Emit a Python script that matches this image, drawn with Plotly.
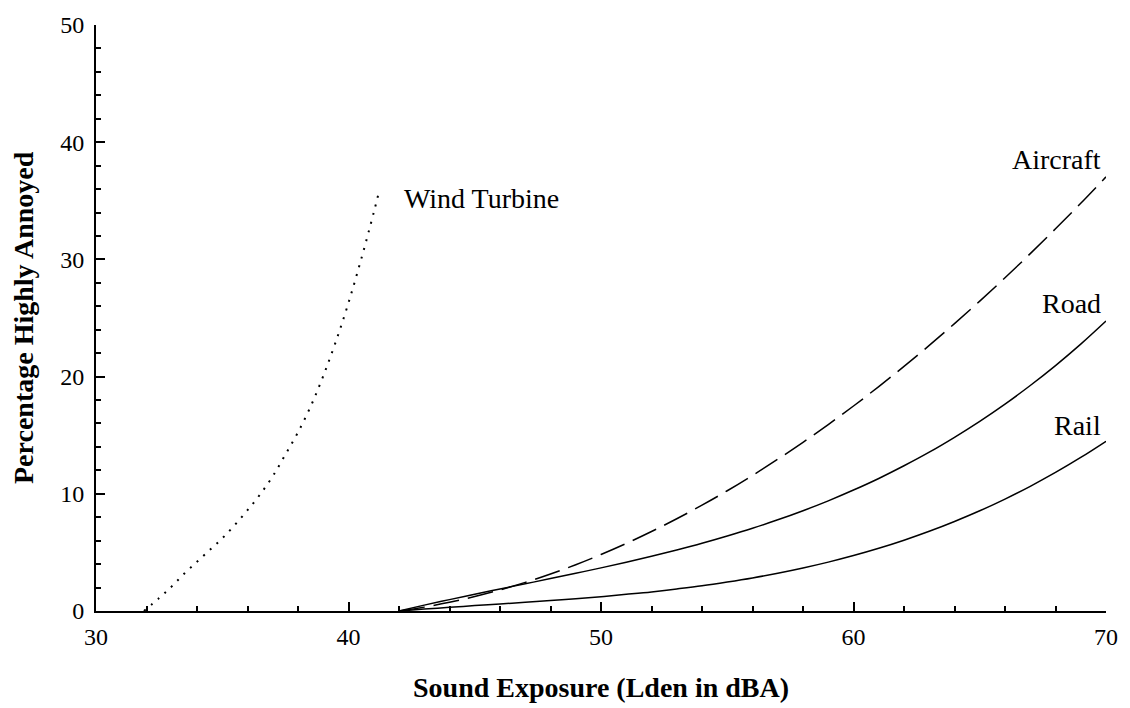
import plotly.graph_objects as go

# ---- data ----
lden = [42, 43, 44, 45, 46, 47, 48, 49, 50, 51, 52, 53, 54, 55, 56,
        57, 58, 59, 60, 61, 62, 63, 64, 65, 66, 67, 68, 69, 70]
aircraft = [0.0, 0.33, 0.74, 1.23, 1.80, 2.44, 3.16, 3.95, 4.82, 5.76, 6.78, 7.87,
            9.03, 10.26, 11.57, 12.95, 14.39, 15.91, 17.49, 19.15, 20.87, 22.66,
            24.52, 26.44, 28.43, 30.49, 32.61, 34.79, 37.04]
road = [0.0, 0.50, 0.97, 1.43, 1.88, 2.32, 2.77, 3.22, 3.68, 4.16, 4.67, 5.21,
        5.78, 6.40, 7.06, 7.78, 8.56, 9.40, 10.32, 11.31, 12.39, 13.55, 14.82,
        16.18, 17.65, 19.24, 20.94, 22.77, 24.74]
rail = [0.0, 0.16, 0.31, 0.46, 0.60, 0.74, 0.89, 1.05, 1.22, 1.42, 1.63, 1.88,
        2.15, 2.47, 2.82, 3.22, 3.67, 4.17, 4.73, 5.35, 6.04, 6.80, 7.64, 8.55,
        9.55, 10.64, 11.82, 13.10, 14.48]

wind_x = [31.9, 32.5, 33.0, 33.5, 34.0, 34.5, 35.0, 35.5, 36.0, 36.5, 37.0,
          37.5, 38.0, 38.5, 39.0, 39.5, 40.0, 40.5, 41.0, 41.2]
wind_y = [0.0, 1.1, 2.1, 3.2, 4.2, 5.2, 6.2, 7.35, 8.6, 9.95, 11.5,
          13.35, 15.25, 17.45, 20.05, 23.0, 26.3, 30.0, 34.0, 35.7]

labels = ["Wind Turbine", "Aircraft", "Road", "Rail"]
label_x = [42.1, 69.9, 69.9, 69.9]
label_y = [35.2, 38.5, 26.25, 15.8]
label_anchor = ["left", "right", "right", "right"]

x_title = "Sound Exposure (Lden in dBA)"
y_title = "Percentage Highly Annoyed"

FONT = "Liberation Serif, Times New Roman, serif"

fig = go.Figure()
fig.add_trace(go.Scatter(x=wind_x, y=wind_y, mode="lines", line_shape="spline",
                         line=dict(color="black", width=2, dash="2px,7px"),
                         hoverinfo="skip"))
fig.add_trace(go.Scatter(x=lden, y=aircraft, mode="lines", line_shape="spline",
                         line=dict(color="black", width=1.5, dash="26px,9px"),
                         hoverinfo="skip"))
fig.add_trace(go.Scatter(x=lden, y=road, mode="lines", line_shape="spline",
                         line=dict(color="black", width=1.5), hoverinfo="skip"))
fig.add_trace(go.Scatter(x=lden, y=rail, mode="lines", line_shape="spline",
                         line=dict(color="black", width=1.5), hoverinfo="skip"))

for t, x, y, a in zip(labels, label_x, label_y, label_anchor):
    fig.add_annotation(x=x, y=y, text=t, showarrow=False, xanchor=a, yanchor="middle",
                       font=dict(family=FONT, size=28, color="black"))

# axis titles (bold)
fig.add_annotation(x=0.5, y=0, xref="paper", yref="paper", text=x_title, showarrow=False,
                   xanchor="center", yanchor="middle", yshift=-76,
                   font=dict(family=FONT, size=28, color="black", weight="bold"))
fig.add_annotation(x=0, y=0.5, xref="paper", yref="paper", text=y_title, showarrow=False,
                   xanchor="center", yanchor="middle", xshift=-73, textangle=-90,
                   font=dict(family=FONT, size=28, color="black", weight="bold"))

axis_common = dict(
    showgrid=False, zeroline=False, showline=True, linecolor="black", linewidth=2,
    ticks="inside", ticklen=9, tickwidth=1.5, tickcolor="black",
    tickfont=dict(family=FONT, size=24, color="black"),
    mirror=False,
)

fig.update_xaxes(range=[30, 70], dtick=10, tick0=30, ticklabelstandoff=3,
                 minor=dict(dtick=2, ticks="inside", ticklen=5, tickwidth=1.5, tickcolor="black"),
                 **axis_common)
fig.update_yaxes(range=[0, 50], dtick=10, tick0=0, ticklabelstandoff=5,
                 minor=dict(dtick=2, ticks="inside", ticklen=5, tickwidth=1.5, tickcolor="black"),
                 **axis_common)

fig.update_layout(
    width=1130, height=708,
    margin=dict(l=96, r=19, t=21, b=97),
    paper_bgcolor="white", plot_bgcolor="white",
    showlegend=False,
    font=dict(family=FONT, color="black"),
)

fig.write_html("out.html", config={"displayModeBar": False})
